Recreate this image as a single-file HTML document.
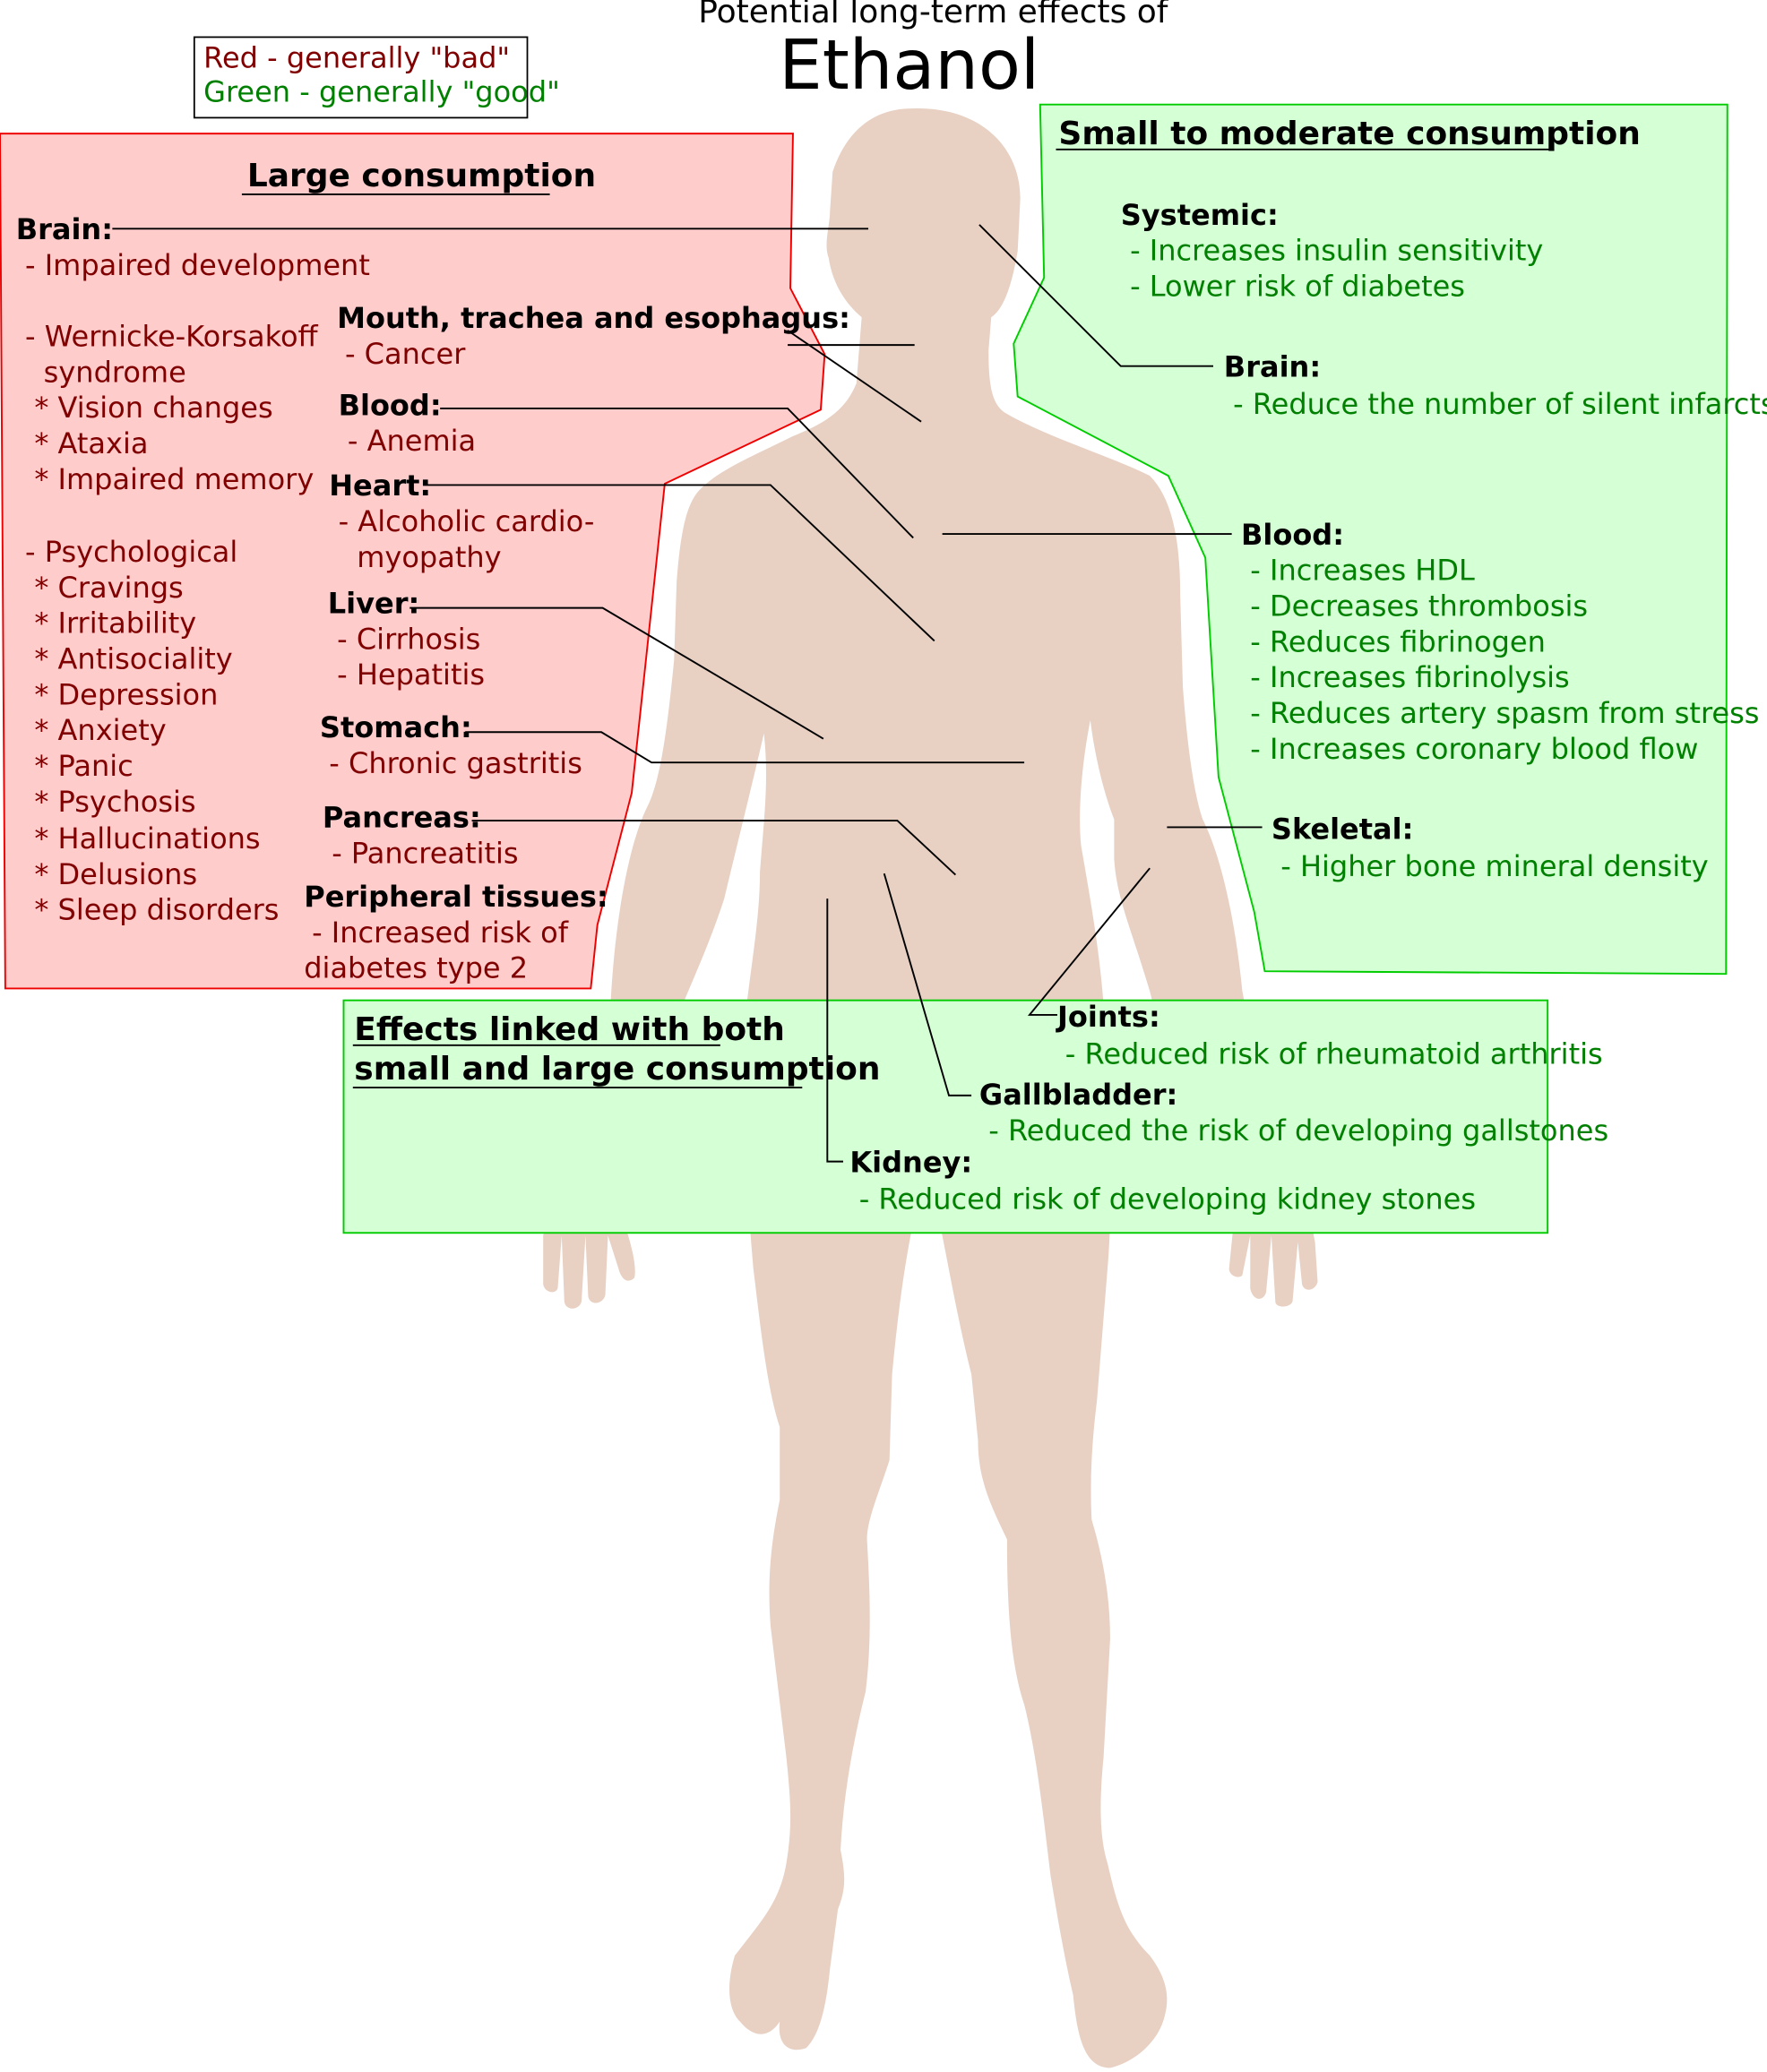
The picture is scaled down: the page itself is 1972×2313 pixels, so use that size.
<!DOCTYPE html>
<html><head><meta charset="utf-8"><style>
html,body{margin:0;padding:0;background:#fff;}
svg{display:block;}
text{font-family:"DejaVu Sans","Liberation Sans",sans-serif;font-size:21.7px;}
.b{font-weight:bold;fill:#000;}
.r{fill:#800000;}
.g{fill:#008000;}
.h{font-weight:bold;font-size:24.4px;fill:#000;}
line,polyline{stroke:#000;stroke-width:1.3;fill:none;}
</style></head><body>
<svg width="1972" height="2313" viewBox="0 0 1337 1568" xmlns="http://www.w3.org/2000/svg">
<rect width="1337" height="1568" fill="#fff"/>
<polygon points="0,101 600,101 598,218 624,268 621,310 503,366 478,600 452,700 447,748 4,748" fill="#fcc" stroke="#e00" stroke-width="1.3"/>
<polygon points="787,79 1307,79 1306,737 957,735 949,690 922,588 912,422 884,360 770,300 767,260 790,210" fill="#d5ffd5" stroke="#0c0" stroke-width="1.3"/>
<path fill="#e8d0c3" d="M690,82 C740,80 772,110 772,150 L770,190 C765,220 758,235 750,240 L748,265 C748,290 750,305 760,312 C790,330 840,345 870,360 C890,380 893,420 893,450 L895,520 C898,560 903,600 910,620 C925,650 935,700 940,750 L960,860 C975,890 990,910 995,940 L997,970 C995,978 985,978 985,970 L982,940 L978,985 C976,990 965,990 965,985 L962,935 L958,978 C956,985 948,985 946,975 L946,935 L940,965 C938,968 930,966 930,960 L933,930 C920,910 905,880 895,850 L870,750 C855,700 845,680 843,650 L843,620 C835,600 828,570 825,545 C820,570 815,610 818,640 C825,680 832,720 835,760 C840,830 843,900 838,960 L830,1060 C825,1100 825,1130 826,1150 C835,1180 840,1210 840,1240 L835,1330 C830,1380 835,1400 838,1410 C845,1440 850,1460 870,1480 C885,1500 885,1515 880,1530 C875,1545 860,1560 840,1565 C820,1565 815,1540 812,1510 C805,1480 800,1450 795,1420 C790,1380 785,1330 775,1290 C765,1260 762,1220 762,1165 C750,1140 740,1120 740,1090 L735,1040 C725,1000 718,960 712,930 L700,880 L690,930 C682,970 678,1010 675,1040 L673,1105 C665,1130 656,1150 656,1165 C658,1200 660,1240 655,1280 C645,1320 638,1360 636,1400 C640,1420 640,1430 634,1445 L628,1490 C625,1520 620,1540 610,1550 C595,1555 588,1545 590,1530 C580,1545 568,1540 560,1530 C550,1520 550,1500 556,1480 C575,1455 590,1440 595,1410 C600,1380 598,1360 595,1330 L583,1230 C580,1190 585,1160 590,1135 L590,1080 C580,1050 575,1000 570,960 C565,900 562,850 565,760 C570,720 575,690 575,660 C578,620 582,590 578,555 C570,590 560,630 548,680 C535,720 520,750 500,800 C490,830 480,880 470,920 C478,940 482,960 480,967 C475,972 470,968 468,960 L460,935 L458,980 C456,988 445,988 445,980 L443,935 L440,985 C438,992 428,992 427,985 L425,935 L422,975 C420,980 412,978 411,972 L411,935 C420,900 440,870 455,840 L462,760 C465,700 475,640 490,610 C500,590 505,550 510,500 L512,440 C515,400 520,380 530,370 C545,355 570,345 600,330 C625,320 640,310 648,290 L652,240 C640,230 630,215 627,195 C623,185 628,170 628,160 L630,130 C640,100 660,82 690,82 Z"/>
<rect x="260" y="757" width="911" height="176" fill="#d5ffd5" stroke="#0c0" stroke-width="1.3"/>
<rect x="147" y="28" width="252" height="61" fill="#fff" stroke="#000" stroke-width="1.2"/>
<text x="154" y="51" class="r">Red - generally "bad"</text>
<text x="154" y="77" class="g">Green - generally "good"</text>
<text x="706" y="17" text-anchor="middle" style="font-size:24.4px">Potential long-term effects of</text>
<text x="688" y="67" text-anchor="middle" style="font-size:52px">Ethanol</text>
<line x1="85" y1="173" x2="657" y2="173"/>
<line x1="596" y1="261" x2="692" y2="261"/>
<line x1="596" y1="250" x2="697" y2="319"/>
<polyline points="333,309 596,309 691,407"/>
<polyline points="320,367 583,367 707,485"/>
<polyline points="310,460 456,460 623,559"/>
<polyline points="352,554 455,554 493,577 775,577"/>
<polyline points="357,621 679,621 723,662"/>
<polyline points="741,170 848,277 918,277"/>
<line x1="713" y1="404" x2="932" y2="404"/>
<line x1="883" y1="626" x2="955" y2="626"/>
<polyline points="870,657 779,768 800,768"/>
<polyline points="669,661 718,829 735,829"/>
<polyline points="626,680 626,879 638,879"/>
<line x1="183" y1="147" x2="416" y2="147" stroke-width="2"/>
<line x1="799" y1="113" x2="1176" y2="113" stroke-width="2"/>
<line x1="267" y1="791" x2="545" y2="791" stroke-width="2"/>
<line x1="267" y1="823" x2="607" y2="823" stroke-width="2"/>
<text x="187" y="141" class="h">Large consumption</text>
<text x="12" y="181" class="b">Brain:</text>
<text x="19" y="208" class="r">- Impaired development</text>
<text x="19" y="262" class="r">- Wernicke-Korsakoff</text>
<text x="33" y="289" class="r">syndrome</text>
<text x="26" y="316" class="r">* Vision changes</text>
<text x="26" y="343" class="r">* Ataxia</text>
<text x="26" y="370" class="r">* Impaired memory</text>
<text x="19" y="425" class="r">- Psychological</text>
<text x="26" y="452" class="r">* Cravings</text>
<text x="26" y="479" class="r">* Irritability</text>
<text x="26" y="506" class="r">* Antisociality</text>
<text x="26" y="533" class="r">* Depression</text>
<text x="26" y="560" class="r">* Anxiety</text>
<text x="26" y="587" class="r">* Panic</text>
<text x="26" y="614" class="r">* Psychosis</text>
<text x="26" y="642" class="r">* Hallucinations</text>
<text x="26" y="669" class="r">* Delusions</text>
<text x="26" y="696" class="r">* Sleep disorders</text>
<text x="255" y="248" class="b">Mouth, trachea and esophagus:</text>
<text x="261" y="275" class="r">- Cancer</text>
<text x="256" y="314" class="b">Blood:</text>
<text x="263" y="341" class="r">- Anemia</text>
<text x="249" y="375" class="b">Heart:</text>
<text x="256" y="402" class="r">- Alcoholic cardio-</text>
<text x="270" y="429" class="r">myopathy</text>
<text x="248" y="464" class="b">Liver:</text>
<text x="255" y="491" class="r">- Cirrhosis</text>
<text x="255" y="518" class="r">- Hepatitis</text>
<text x="242" y="558" class="b">Stomach:</text>
<text x="249" y="585" class="r">- Chronic gastritis</text>
<text x="244" y="626" class="b">Pancreas:</text>
<text x="251" y="653" class="r">- Pancreatitis</text>
<text x="230" y="686" class="b">Peripheral tissues:</text>
<text x="236" y="713" class="r">- Increased risk of</text>
<text x="230" y="740" class="r">diabetes type 2</text>
<text x="801" y="109" class="h">Small to moderate consumption</text>
<text x="848" y="170" class="b">Systemic:</text>
<text x="855" y="197" class="g">- Increases insulin sensitivity</text>
<text x="855" y="224" class="g">- Lower risk of diabetes</text>
<text x="926" y="285" class="b">Brain:</text>
<text x="933" y="313" class="g">- Reduce the number of silent infarcts</text>
<text x="939" y="412" class="b">Blood:</text>
<text x="946" y="439" class="g">- Increases HDL</text>
<text x="946" y="466" class="g">- Decreases thrombosis</text>
<text x="946" y="493" class="g">- Reduces fibrinogen</text>
<text x="946" y="520" class="g">- Increases fibrinolysis</text>
<text x="946" y="547" class="g">- Reduces artery spasm from stress</text>
<text x="946" y="574" class="g">- Increases coronary blood flow</text>
<text x="962" y="635" class="b">Skeletal:</text>
<text x="969" y="663" class="g">- Higher bone mineral density</text>
<text x="268" y="787" class="h">Effects linked with both</text>
<text x="268" y="817" class="h">small and large consumption</text>
<text x="800" y="777" class="b">Joints:</text>
<text x="806" y="805" class="g">- Reduced risk of rheumatoid arthritis</text>
<text x="741" y="836" class="b">Gallbladder:</text>
<text x="748" y="863" class="g">- Reduced the risk of developing gallstones</text>
<text x="643" y="887" class="b">Kidney:</text>
<text x="650" y="915" class="g">- Reduced risk of developing kidney stones</text>
</svg>
</body></html>
